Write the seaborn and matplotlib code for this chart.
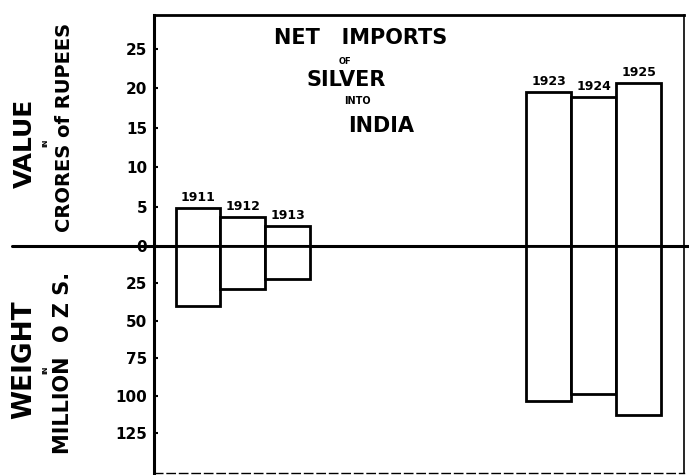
import pandas as pd
import matplotlib.pyplot as plt
import seaborn as sns

# Значения
years = [1911, 1912, 1913, 1923, 1924, 1925]
value_crores = [4.8, 3.7, 2.5, 19.5, 18.9, 20.7]
weight_million_ozs = [40.1, 28.7, 22.1, 103.6, 98.9, 113.0]

value_ticks = [0, 5, 10, 15, 20, 25]
weight_ticks = [25, 50, 75, 100, 125]


# Позиции столбцов: годы идут вплотную, между 1913 и 1923 разрыв
def bar_positions(yrs, gap=4.79):
    pos = []
    for i, y in enumerate(yrs):
        pos.append(i + gap if y > 1913 else i)
    return pos


def main():
    df = pd.DataFrame({'year': years, 'value': value_crores, 'weight': weight_million_ozs})
    df['pos'] = bar_positions(years)

    sns.set_style('white')
    plt.rcParams['font.family'] = ['DejaVu Sans']
    plt.rcParams['font.weight'] = 'bold'
    plt.rcParams['text.color'] = 'black'
    plt.rcParams['ytick.color'] = 'black'
    plt.rcParams['axes.labelcolor'] = 'black'

    fig = plt.figure(figsize=(6.89, 4.75), dpi=100)
    ax = fig.add_axes([0.2235, 0.0042, 0.7692, 0.9642])
    ax2 = ax.twinx()

    # Верх: стоимость в кроpах рупий
    sns.barplot(data=df, x='pos', y='value', native_scale=True, width=1, color='white',
                saturation=1, edgecolor='black', linewidth=2, errorbar=None, ax=ax)
    # Низ: вес в миллионах унций (ось перевёрнута)
    sns.barplot(data=df, x='pos', y='weight', native_scale=True, width=1, color='white',
                saturation=1, edgecolor='black', linewidth=2, errorbar=None, ax=ax2)

    ax.set_xlim(-0.978, 10.8)
    ax.set_ylim(-28.8, 29.3)
    ax2.set_ylim(151.7, -154.4)

    for a in (ax, ax2):
        a.set_xlabel('')
        a.set_ylabel('')
        a.set_xticks([])
        for s in a.spines.values():
            s.set_visible(False)

    ax.set_yticks(value_ticks)
    ax.set_yticklabels([str(t) for t in value_ticks])
    ax2.yaxis.tick_left()
    ax2.set_yticks(weight_ticks)
    ax2.set_yticklabels([str(t) for t in weight_ticks])
    for a in (ax, ax2):
        a.tick_params(axis='y', direction='in', length=3, width=1.5, pad=5,
                      labelsize=11, colors='black')
        for lbl in a.get_yticklabels():
            lbl.set_fontweight('bold')

    ax.spines['left'].set_visible(True)
    ax.spines['left'].set_linewidth(2.2)
    ax.spines['top'].set_visible(True)
    ax.spines['top'].set_linewidth(2)
    ax.spines['right'].set_visible(True)
    ax.spines['right'].set_linewidth(1.2)
    ax.spines['bottom'].set_visible(True)
    ax.spines['bottom'].set_linewidth(1)
    ax.spines['bottom'].set_linestyle((0, (6, 3)))
    for s in ax.spines.values():
        s.set_color('black')

    # Нулевая линия выходит за пределы рамки
    ax.axhline(0, xmin=-0.268, xmax=1.01, color='black', lw=2.2, clip_on=False, zorder=5)

    # Подписи годов над столбцами
    for p, v, y in zip(df['pos'], df['value'], df['year']):
        ax.annotate(str(y), (p, v), xytext=(0, 3), textcoords='offset points',
                    ha='center', va='bottom', fontsize=9, fontweight='bold', color='black')

    W, H = 689, 475

    def ftext(x, y, s, size, **kw):
        fig.text(x / W, 1 - y / H, s, fontsize=size, fontweight='bold',
                 ha='center', va='center', color='black', **kw)

    # Заголовок
    ftext(361, 38, 'NET   IMPORTS', 15)
    ftext(345, 62, 'OF', 6)
    ftext(346, 80, 'SILVER', 15)
    ftext(357, 101, 'INTO', 7)
    ftext(381, 126, 'INDIA', 15)

    # Подписи осей слева
    ftext(25, 143, 'VALUE', 18, rotation=90)
    ftext(45, 143, 'IN', 5, rotation=90)
    ftext(65, 127, 'CRORES of RUPEES', 14, rotation=90)
    ftext(24, 360, 'WEIGHT', 19, rotation=90)
    ftext(45, 370, 'IN', 5, rotation=90)
    ftext(63, 363, 'MILLION  O Z S.', 15, rotation=90)

    fig.savefig('out.png', dpi=100)


if __name__ == "__main__":
    main()
